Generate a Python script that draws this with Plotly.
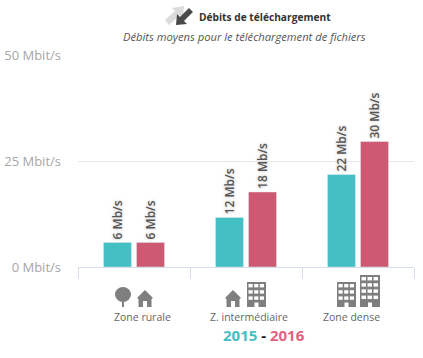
import plotly.graph_objects as go

categories = ["Zone rurale", "Z. intermédiaire", "Zone dense"]
values_2015 = [5.8, 11.7, 21.8]
values_2016 = [5.8, 17.7, 29.6]
labels_2015 = ["6 Mb/s", "12 Mb/s", "22 Mb/s"]
labels_2016 = ["6 Mb/s", "18 Mb/s", "30 Mb/s"]
y_ticks = [0, 25, 50]
y_tick_labels = ["0 Mbit/s", "25 Mbit/s", "50 Mbit/s"]
title_text = "Débits de téléchargement"
subtitle_text = "Débits moyens pour le téléchargement de fichiers"

W, H = 423, 358
L, R, T, B = 78, 9, 55, 91
TEAL, PINK = "#44bfc4", "#cd5a72"
ICON = "#7f7f7f"
FONT = "Open Sans"
category_label_x = [142, 249, 351]


def px(x):
    return (x - L) / (W - L - R)


def py(y):
    return 1 - (y - T) / (H - T - B)


def rect(x0, y0, x1, y1, color):
    return dict(type="rect", xref="paper", yref="paper", x0=px(x0), x1=px(x1),
                y0=py(y0), y1=py(y1), fillcolor=color, line_width=0, layer="above")


def oval(x0, y0, x1, y1, color):
    d = rect(x0, y0, x1, y1, color)
    d["type"] = "circle"
    return d


def poly(points, color):
    path = "M " + " L ".join(f"{px(a):.5f} {py(b):.5f}" for a, b in points) + " Z"
    return dict(type="path", xref="paper", yref="paper", path=path, fillcolor=color,
                line_width=0, layer="above")


def building(x0, y0, x1, y1):
    out = [rect(x0, y0, x1, y1, ICON)]
    w = (x1 - x0 - 2) / 3
    rows = int((y1 - y0 - 6) / 6.2)
    for r in range(rows):
        for c in range(3):
            xa = x0 + 1.5 + c * w
            ya = y0 + 2 + r * 6.2
            out.append(rect(xa, ya, xa + w - 1.5, ya + 3.4, "#ffffff"))
    mid = (x0 + x1) / 2
    out.append(rect(mid - 2, y1 - 4.5, mid + 2, y1, "#ffffff"))
    return out


def house(x0, y0, x1, y1):
    mid = (x0 + x1) / 2
    return [
        poly([(x0, y0 + 8), (mid, y0), (x1, y0 + 8), (x1 - 1.5, y0 + 9), (x1 - 1.5, y1),
              (x0 + 1.5, y1), (x0 + 1.5, y0 + 9)], ICON),
        rect(mid - 2, y1 - 6, mid + 2, y1, "#ffffff"),
    ]


def tree(x0, y0, x1, y1):
    mid = (x0 + x1) / 2
    return [oval(x0, y0, x1, y0 + 15, ICON), rect(mid - 1, y0 + 12, mid + 1, y1, ICON)]


shapes = []
shapes += tree(115, 287, 131, 307) + house(137, 290, 153, 307)
shapes += house(225, 290, 241, 307) + building(247, 282, 266, 307)
shapes += building(337, 282, 356, 307) + building(360, 275, 380, 307)
# title icon
shapes.append(poly([(165, 20), (175, 11), (172, 8), (184, 6), (183, 18), (180, 15),
                    (169, 25)], "#dcdcdc"))
shapes.append(poly([(193, 12), (184, 21), (187, 24), (176, 25), (177, 14), (180, 17),
                    (189, 8)], "#4a4a4a"))

fig = go.Figure()
for name, vals, labs, col in [("2015", values_2015, labels_2015, TEAL),
                              ("2016", values_2016, labels_2016, PINK)]:
    fig.add_bar(
        x=categories, y=vals, name=name, text=[s + "\u00a0" for s in labs], marker_color=col,
        textposition="outside", textangle=-90, cliponaxis=False, constraintext="none",
        textfont=dict(family=FONT, size=12, color="#555555", weight=600,
                      shadow="0px 0px 3px #ffffff, 0px 0px 3px #aaaaaa"),
    )

annotations = [
    dict(text=f"<b>{title_text}</b>", xref="paper", yref="paper", x=px(197), y=py(17),
         xanchor="left", yanchor="middle", showarrow=False,
         font=dict(family=FONT, size=10.2, color="#333333")),
    dict(text=f"<i>{subtitle_text}</i>", xref="paper", yref="paper", x=px(244), y=py(37),
         xanchor="center", yanchor="middle", showarrow=False,
         font=dict(family=FONT, size=11.2, color="#555555")),
    dict(text=f'<b><span style="color:{TEAL}">2015</span> - '
              f'<span style="color:#e0637e">2016</span></b>',
         xref="paper", yref="paper", x=px(264), y=py(335), xanchor="center",
         yanchor="middle", showarrow=False,
         font=dict(family=FONT, size=15, color="#111111")),
]
for cat, cx in zip(categories, category_label_x):
    annotations.append(dict(text=cat, xref="paper", yref="paper", x=px(cx), y=py(317),
                            xanchor="center", yanchor="middle", showarrow=False,
                            font=dict(family=FONT, size=10.5, color="#666666")))

fig.update_layout(
    width=W, height=H, margin=dict(l=L, r=R, t=T, b=B, autoexpand=False), autosize=False,
    paper_bgcolor="#ffffff", plot_bgcolor="#ffffff", showlegend=False,
    barmode="group", bargap=0.41, bargroupgap=0.15, shapes=shapes, annotations=annotations,
)
fig.update_xaxes(
    type="category", tickson="boundaries", ticks="outside", ticklen=11, tickwidth=1,
    tickcolor="#d5dfe9", linecolor="#d5dfe9", showline=True, showgrid=False, automargin=False,
    showticklabels=False,
)
fig.update_yaxes(
    range=[0, 50], tickvals=y_ticks, ticktext=y_tick_labels, showline=False, zeroline=False,
    gridcolor="#e6e6e6", gridwidth=1, ticks="", ticklabelstandoff=16, automargin=False,
    tickfont=dict(family=FONT, size=13, color="#a6a6a6"),
)
fig.write_html("out.html", config={"displayModeBar": False},
               post_script="document.body.style.margin='0';")
